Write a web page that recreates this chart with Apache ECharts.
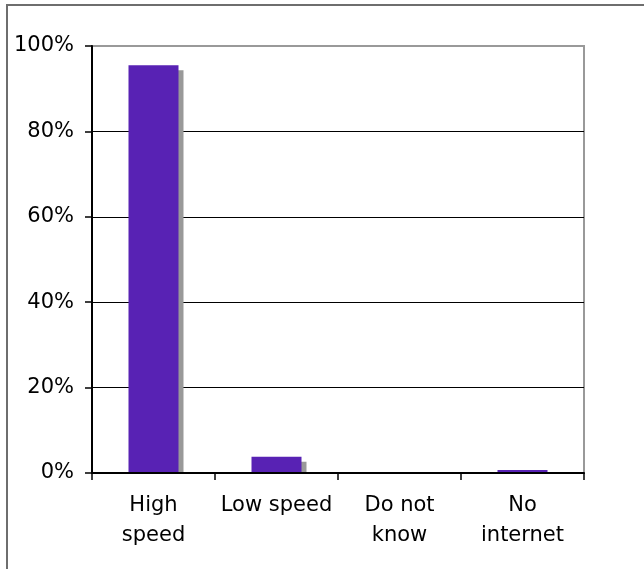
<!DOCTYPE html>
<html>
<head>
<meta charset="utf-8">
<style>
  html, body { margin: 0; padding: 0; background: #fff; }
  #chart { width: 644px; height: 569px; }
</style>
<script src="https://cdn.jsdelivr.net/npm/echarts@6/dist/echarts.min.js"></script>
</head>
<body>
<div id="chart"></div>
<script>
// Internet connection type at home (share of respondents, %)
const categories = ['High\nspeed', 'Low speed', 'Do not\nknow', 'No\ninternet'];
const shares = [95.5, 3.8, 0, 0.7];
const yTicks = [0, 20, 40, 60, 80, 100];

const BAR_WIDTH = 50;
const SHADOW_OFFSET = 5;
const FONT = 'DejaVu Sans, Verdana, sans-serif';

const chart = echarts.init(document.getElementById('chart'), null, { renderer: 'canvas' });

chart.setOption({
  animation: false,
  backgroundColor: '#fff',
  graphic: [{
    type: 'rect',
    z: -10,
    shape: { x: 7, y: 5, width: 640, height: 566 },
    style: { fill: 'none', stroke: '#6e6e6e', lineWidth: 2 }
  }],
  grid: {
    left: 92, right: 60, top: 46, bottom: 96,
    show: true, borderColor: '#999', borderWidth: 2, backgroundColor: 'transparent'
  },
  xAxis: {
    type: 'category',
    data: categories,
    boundaryGap: true,
    z: 5,
    axisLine: { lineStyle: { color: '#000', width: 2 } },
    axisTick: { show: true, length: 7, alignWithLabel: false, lineStyle: { color: '#000', width: 1.5 } },
    axisLabel: { color: '#000', fontFamily: FONT, fontSize: 21, lineHeight: 30, margin: 18, interval: 0 },
    splitLine: { show: false }
  },
  yAxis: {
    type: 'value',
    min: yTicks[0],
    max: yTicks[yTicks.length - 1],
    interval: yTicks[1] - yTicks[0],
    z: 0,
    axisLine: { show: true, lineStyle: { color: '#000', width: 2 } },
    axisTick: { show: true, length: 7, lineStyle: { color: '#000', width: 1.5 } },
    axisLabel: { color: '#000', fontFamily: FONT, fontSize: 21, margin: 18, formatter: v => v + '%' },
    splitLine: { show: true, lineStyle: { color: ['#000', '#000', '#000', '#000', '#000', '#999'], width: 1 } }
  },
  series: [
    {
      // drop shadow behind each bar
      type: 'custom',
      z: 1,
      data: shares.map((v, i) => [i, v]),
      renderItem: function (params, api) {
        const top = api.coord([api.value(0), api.value(1)]);
        const base = api.coord([api.value(0), 0]);
        const x = top[0] - BAR_WIDTH / 2 + SHADOW_OFFSET;
        const y = top[1] + SHADOW_OFFSET;
        const h = base[1] - y;
        if (h <= 0) return null;
        return {
          type: 'rect',
          shape: { x: x, y: y, width: BAR_WIDTH, height: h },
          style: { fill: '#999999' }
        };
      }
    },
    {
      type: 'bar',
      z: 2,
      data: shares,
      barWidth: BAR_WIDTH,
      itemStyle: { color: '#5822b4' }
    }
  ]
});
</script>
</body>
</html>
